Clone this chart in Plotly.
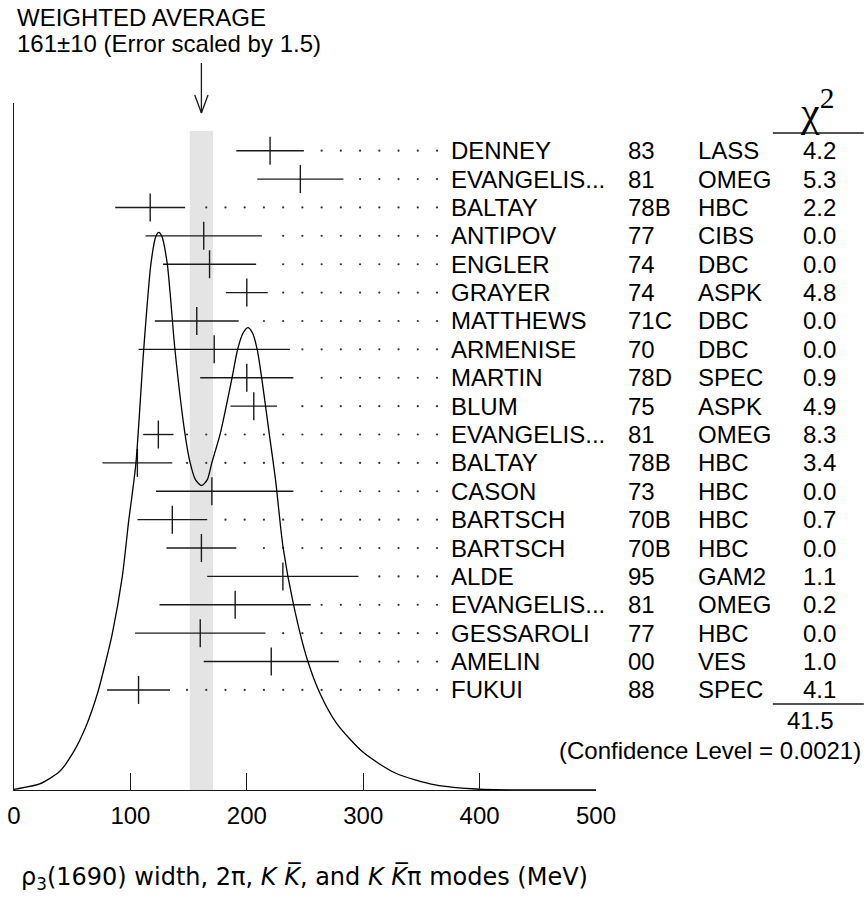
import numpy as np
import plotly.graph_objects as go

# ---------------- data ----------------
names = ["DENNEY", "EVANGELIS...", "BALTAY", "ANTIPOV", "ENGLER", "GRAYER",
         "MATTHEWS", "ARMENISE", "MARTIN", "BLUM", "EVANGELIS...", "BALTAY",
         "CASON", "BARTSCH", "BARTSCH", "ALDE", "EVANGELIS...", "GESSAROLI",
         "AMELIN", "FUKUI"]
years = ["83", "81", "78B", "77", "74", "74", "71C", "70", "78D", "75", "81",
         "78B", "73", "70B", "70B", "95", "81", "77", "00", "88"]
insts = ["LASS", "OMEG", "HBC", "CIBS", "DBC", "ASPK", "DBC", "DBC", "SPEC",
         "ASPK", "OMEG", "HBC", "HBC", "HBC", "HBC", "GAM2", "OMEG", "HBC",
         "VES", "SPEC"]
chi2 = ["4.2", "5.3", "2.2", "0.0", "0.0", "4.8", "0.0", "0.0", "0.9", "4.9",
        "8.3", "3.4", "0.0", "0.7", "0.0", "1.1", "0.2", "0.0", "1.0", "4.1"]
values = [220, 246, 117, 163, 168, 200, 157, 172, 200, 206, 124, 106, 170,
          136, 161, 231, 190, 160, 221, 107]
err_plus = [29, 37, 30, 50, 40, 18, 36, 65, 40, 20, 13, 30, 70, 30, 30, 65,
            65, 56, 58, 27]
err_minus = [29, 37, 30, 50, 40, 18, 36, 65, 40, 20, 13, 30, 48, 30, 30, 65,
             65, 56, 58, 27]
chi2_total = "41.5"
conf_level = "(Confidence Level = 0.0021)"
avg_value = 161
avg_error = 10
avg_text = ["WEIGHTED AVERAGE", "161\u00b110 (Error scaled by 1.5)"]

# ideogram curve (arbitrary units, peak = 1)
curve_x = [0, 2.3, 22.1, 39.1, 50.5, 61.8, 71.7, 78.8, 84.5, 93, 98.6, 100.9,
           104.8, 111.4, 117.6, 121.9, 124.4, 127, 131.7, 138.3, 146.8, 151.3,
           156, 161.2, 166, 170, 177.3, 187.3, 192, 196.5, 200.9, 205, 209,
           212.8, 219.2, 224.7, 231.1, 240.2, 252.1, 262.9, 277, 299.7, 328,
           362, 400, 450, 500]
curve_y = [0.001, 0.002, 0.011, 0.033, 0.066, 0.114, 0.173, 0.230, 0.281,
           0.382, 0.484, 0.520, 0.587, 0.789, 0.943, 0.993, 1.000, 0.993,
           0.943, 0.789, 0.640, 0.587, 0.556, 0.546, 0.556, 0.587, 0.640,
           0.739, 0.789, 0.818, 0.829, 0.819, 0.789, 0.739, 0.640, 0.556,
           0.436, 0.332, 0.233, 0.173, 0.120, 0.068, 0.030, 0.009, 0.0013,
           0.0002, 0.0]
x_ticks = [0, 100, 200, 300, 400, 500]

title_text = ("\u03c1<sub>3</sub>(1690) width, 2\u03c0, <i>K</i> <i>K\u0305</i>, "
              "and <i>K</i> <i>K\u0305</i>\u03c0 modes (MeV)")

# ---------------- layout constants ----------------
W, H = 867, 902
ML, MR, MT, MB = 7, 271, 103, 112
PW = W - ML - MR
PH = H - MT - MB
ROW_RANGE = [22.526, -1.681]
FONT = "Liberation Sans, Arial, sans-serif"
FS = 24
INK = "#1a1a1a"


def px2paper_x(px):
    return (px - ML) / PW


def px2paper_y(py):
    return (H - MB - py) / PH


rows = list(range(len(names)))

fig = go.Figure()

# ideogram curve
fig.add_trace(go.Scatter(x=curve_x, y=curve_y, mode="lines", yaxis="y2",
                         line=dict(color="black", width=1.3, shape="spline",
                                   smoothing=0.7),
                         hoverinfo="skip"))

# dotted leaders
dot_end, dot_step = 363.4, 16.52
grid = dot_end - dot_step * np.arange(0, 30)
dx, dy = [], []
for i in rows:
    start = values[i] + err_plus[i] + 8.5
    for g in grid:
        if g >= start:
            dx.append(g)
            dy.append(i)
fig.add_trace(go.Scatter(x=dx, y=dy, mode="markers",
                         marker=dict(symbol="circle", size=2.2, color="#333"),
                         hoverinfo="skip"))

# measurements
fig.add_trace(go.Scatter(
    x=values, y=rows, mode="markers",
    marker=dict(symbol="line-ns", size=20, line=dict(width=1.4, color=INK),
                color=INK),
    error_x=dict(type="data", symmetric=False, array=err_plus,
                 arrayminus=err_minus, width=0, thickness=1.4, color=INK),
    hoverinfo="skip"))

shapes = []
# weighted-average band
shapes.append(dict(type="rect", xref="x", yref="paper",
                   x0=avg_value - avg_error, x1=avg_value + avg_error,
                   y0=0, y1=px2paper_y(131), fillcolor="#e4e4e4",
                   line=dict(width=0), layer="below"))
# arrow
ya_top, ya_tip, ya_head = px2paper_y(63), px2paper_y(113), px2paper_y(95)
shapes.append(dict(type="line", xref="x", yref="paper", x0=avg_value,
                   x1=avg_value, y0=ya_top, y1=ya_tip,
                   line=dict(color=INK, width=1.3)))
for s in (-1, 1):
    shapes.append(dict(type="line", xref="x", yref="paper",
                       x0=avg_value + s * 5.7, x1=avg_value, y0=ya_head,
                       y1=ya_tip, line=dict(color=INK, width=1.3)))
# chi2 underlines
for yrow in (-0.624, 19.495):
    shapes.append(dict(type="line", xref="paper", yref="y",
                       x0=px2paper_x(775), x1=px2paper_x(867), y0=yrow,
                       y1=yrow, line=dict(color=INK, width=1.3)))

ann = []
for i in rows:
    ann.append(dict(x=px2paper_x(447), y=i, xref="paper", yref="y",
                    text=names[i], xanchor="left", yanchor="middle",
                    showarrow=False))
    ann.append(dict(x=px2paper_x(626), y=i, xref="paper", yref="y",
                    text=years[i], xanchor="left", yanchor="middle",
                    showarrow=False))
    ann.append(dict(x=px2paper_x(697), y=i, xref="paper", yref="y",
                    text=insts[i], xanchor="left", yanchor="middle",
                    showarrow=False))
    ann.append(dict(x=px2paper_x(841), y=i, xref="paper", yref="y",
                    text=chi2[i], xanchor="right", yanchor="middle",
                    showarrow=False))
ann.append(dict(x=px2paper_x(839), y=20.06, xref="paper", yref="y",
                text=chi2_total, xanchor="right", yanchor="middle",
                showarrow=False))
ann.append(dict(x=px2paper_x(866), y=21.15, xref="paper", yref="y",
                text=conf_level, xanchor="right", yanchor="middle",
                showarrow=False))
ann.append(dict(x=px2paper_x(820), y=-1.5, xref="paper", yref="y",
                text="\u03c7<sup>2</sup>", xanchor="center", yanchor="middle",
                showarrow=False,
                font=dict(family="Liberation Serif, serif", size=42,
                          color="black")))
ann.append(dict(x=px2paper_x(8), y=px2paper_y(18), xref="paper",
                yref="paper", text=avg_text[0], xanchor="left",
                yanchor="middle", showarrow=False))
ann.append(dict(x=px2paper_x(8), y=px2paper_y(43), xref="paper",
                yref="paper", text=avg_text[1], xanchor="left",
                yanchor="middle", showarrow=False))
ann.append(dict(x=px2paper_x(12), y=px2paper_y(878), xref="paper",
                yref="paper", text=title_text, xanchor="left",
                yanchor="middle", showarrow=False,
                font=dict(family="DejaVu Sans, sans-serif", size=24,
                          color="black")))

fig.update_layout(
    width=W, height=H,
    margin=dict(l=ML, r=MR, t=MT, b=MB, pad=0),
    paper_bgcolor="white", plot_bgcolor="white",
    showlegend=False,
    font=dict(family=FONT, size=FS, color="black"),
    shapes=shapes, annotations=ann,
    xaxis=dict(range=[0, 500], tickvals=x_ticks, ticks="inside", ticklen=17,
               tickwidth=1.3, tickcolor=INK, showline=True, linecolor=INK,
               linewidth=1.3, showgrid=False, zeroline=False,
               tickfont=dict(family=FONT, size=FS, color="black"),
               ticklabelstandoff=4, fixedrange=True),
    yaxis=dict(range=ROW_RANGE, showline=True, linecolor=INK, linewidth=1.3,
               showticklabels=False, ticks="", showgrid=False,
               zeroline=False, fixedrange=True),
    yaxis2=dict(range=[0, PH / 557.7], overlaying="y", visible=False,
                fixedrange=True),
)

fig.write_html(
    "out.html",
    config={"displayModeBar": False},
    post_script="document.body.style.margin='0px';"
                "document.body.style.overflow='hidden';",
)
